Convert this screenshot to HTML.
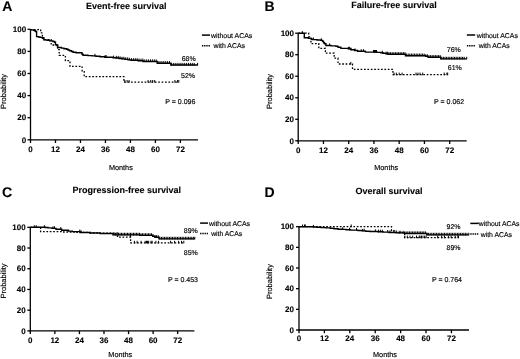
<!DOCTYPE html>
<html><head><meta charset="utf-8"><style>
html,body{margin:0;padding:0;background:#fff;}
svg{display:block;will-change:transform;}
text{font-family:"Liberation Sans", sans-serif;fill:#000;text-rendering:geometricPrecision;stroke:#000;stroke-width:0.15px;}
text[font-weight="bold"]{stroke-width:0.1px;}
</style></head><body>
<svg width="520" height="359" viewBox="0 0 520 359">
<rect width="520" height="359" fill="#fff"/>
<line x1="30.50" y1="29.30" x2="30.50" y2="140.30" stroke="#000" stroke-width="1.3"/>
<line x1="27.50" y1="139.80" x2="30.50" y2="139.80" stroke="#000" stroke-width="1.3"/>
<text x="26.20" y="142.50" font-size="8" font-weight="bold" text-anchor="end" >0</text>
<line x1="27.50" y1="117.70" x2="30.50" y2="117.70" stroke="#000" stroke-width="1.3"/>
<text x="26.20" y="120.40" font-size="8" font-weight="bold" text-anchor="end" >20</text>
<line x1="27.50" y1="95.60" x2="30.50" y2="95.60" stroke="#000" stroke-width="1.3"/>
<text x="26.20" y="98.30" font-size="8" font-weight="bold" text-anchor="end" >40</text>
<line x1="27.50" y1="73.50" x2="30.50" y2="73.50" stroke="#000" stroke-width="1.3"/>
<text x="26.20" y="76.20" font-size="8" font-weight="bold" text-anchor="end" >60</text>
<line x1="27.50" y1="51.40" x2="30.50" y2="51.40" stroke="#000" stroke-width="1.3"/>
<text x="26.20" y="54.10" font-size="8" font-weight="bold" text-anchor="end" >80</text>
<line x1="27.50" y1="29.30" x2="30.50" y2="29.30" stroke="#000" stroke-width="1.3"/>
<text x="26.20" y="32.00" font-size="8" font-weight="bold" text-anchor="end" >100</text>
<line x1="30.00" y1="139.80" x2="198.00" y2="139.80" stroke="#000" stroke-width="1.3"/>
<line x1="30.50" y1="139.80" x2="30.50" y2="143.00" stroke="#000" stroke-width="1.3"/>
<text x="30.50" y="151.90" font-size="8" font-weight="bold" text-anchor="middle" >0</text>
<line x1="55.48" y1="139.80" x2="55.48" y2="143.00" stroke="#000" stroke-width="1.3"/>
<text x="55.48" y="151.90" font-size="8" font-weight="bold" text-anchor="middle" >12</text>
<line x1="80.47" y1="139.80" x2="80.47" y2="143.00" stroke="#000" stroke-width="1.3"/>
<text x="80.47" y="151.90" font-size="8" font-weight="bold" text-anchor="middle" >24</text>
<line x1="105.45" y1="139.80" x2="105.45" y2="143.00" stroke="#000" stroke-width="1.3"/>
<text x="105.45" y="151.90" font-size="8" font-weight="bold" text-anchor="middle" >36</text>
<line x1="130.44" y1="139.80" x2="130.44" y2="143.00" stroke="#000" stroke-width="1.3"/>
<text x="130.44" y="151.90" font-size="8" font-weight="bold" text-anchor="middle" >48</text>
<line x1="155.42" y1="139.80" x2="155.42" y2="143.00" stroke="#000" stroke-width="1.3"/>
<text x="155.42" y="151.90" font-size="8" font-weight="bold" text-anchor="middle" >60</text>
<line x1="180.40" y1="139.80" x2="180.40" y2="143.00" stroke="#000" stroke-width="1.3"/>
<text x="180.40" y="151.90" font-size="8" font-weight="bold" text-anchor="middle" >72</text>
<text x="2.30" y="11.00" font-size="14" font-weight="bold" text-anchor="start" >A</text>
<text x="86.00" y="8.60" font-size="9" font-weight="bold" text-anchor="start" >Event-free survival</text>
<text x="0" y="0" font-size="7.5" text-anchor="middle" transform="translate(6.10,91.40) rotate(-90)">Probability</text>
<text x="108.90" y="170.00" font-size="7.3" text-anchor="start" >Months</text>
<line x1="201.90" y1="35.10" x2="210.00" y2="35.10" stroke="#000" stroke-width="1.5"/>
<line x1="201.90" y1="45.80" x2="210.00" y2="45.80" stroke="#000" stroke-width="1.5" stroke-dasharray="1.4,0.8"/>
<text x="210.90" y="37.60" font-size="7" text-anchor="start"  textLength="41.4" lengthAdjust="spacingAndGlyphs">without ACAs</text>
<text x="213.50" y="48.40" font-size="7" text-anchor="start"  textLength="31.5" lengthAdjust="spacingAndGlyphs">with ACAs</text>
<text x="181.70" y="60.60" font-size="7" text-anchor="start" >68%</text>
<text x="181.00" y="78.10" font-size="7" text-anchor="start" >52%</text>
<text x="165.30" y="103.80" font-size="7" text-anchor="start" >P = 0.096</text>
<polyline points="30.50,29.90 33.50,29.90 33.50,30.30 34.60,30.30 34.60,30.80 35.50,30.80 35.50,31.50 36.60,31.50 36.60,36.60 38.50,36.60 38.50,37.00 40.10,37.00 40.10,37.40 42.40,37.40 42.40,38.20 43.80,38.20 43.80,39.90 47.00,39.90 47.00,40.30 49.60,40.30 49.60,40.90 52.90,40.90 52.90,41.50 54.60,41.50 54.60,42.30 55.50,42.30 55.50,44.70 56.90,44.70 56.90,45.50 57.80,45.50 57.80,47.50 61.50,47.50 61.50,48.10 64.00,48.10 64.00,48.70 66.70,48.70 66.70,49.30 68.00,49.30 68.00,50.00 69.60,50.00 69.60,50.70 71.50,50.70 71.50,51.50 73.10,51.50 73.10,52.20 76.00,52.20 76.00,52.70 82.00,52.70 82.00,54.20 83.00,54.20 83.00,55.30 88.00,55.30 88.00,55.60 92.00,55.60 92.00,55.90 96.00,55.90 96.00,56.30 100.00,56.30 100.00,56.70 105.00,56.70 105.00,57.20 113.00,57.20 113.00,57.70 116.00,57.70 116.00,58.00 119.00,58.00 119.00,58.50 122.00,58.50 122.00,58.90 125.00,58.90 125.00,59.40 128.00,59.40 128.00,59.90 131.00,59.90 131.00,60.30 138.00,60.30 138.00,60.70 143.00,60.70 143.00,61.50 157.20,61.50 157.20,63.20 170.80,63.20 170.80,65.00 197.70,65.00 197.70,65.00" fill="none" stroke="#000" stroke-width="1.4" stroke-linejoin="miter" stroke-linecap="butt"/>
<polyline points="30.50,29.60 40.70,29.60 40.70,32.90 41.80,32.90 41.80,34.70 42.40,34.70 42.40,37.60 43.80,37.60 43.80,39.60 51.20,39.60 51.20,45.00 57.50,45.00 57.50,49.60 59.20,49.60 59.20,55.40 65.40,55.40 65.40,60.70 70.00,60.70 70.00,66.30 82.10,66.30 82.10,71.70 84.20,71.70 84.20,76.70 123.90,76.70 123.90,82.10 178.80,82.10 178.80,82.10" fill="none" stroke="#000" stroke-width="1.3" stroke-linejoin="miter" stroke-linecap="butt" stroke-dasharray="1.7,1.7"/>
<line x1="94.90" y1="56.40" x2="94.90" y2="53.80" stroke="#000" stroke-width="1.0"/>
<line x1="105.10" y1="57.70" x2="105.10" y2="55.10" stroke="#000" stroke-width="1.0"/>
<line x1="106.20" y1="57.70" x2="106.20" y2="55.10" stroke="#000" stroke-width="1.0"/>
<line x1="113.60" y1="58.20" x2="113.60" y2="55.60" stroke="#000" stroke-width="1.0"/>
<line x1="116.30" y1="58.50" x2="116.30" y2="55.90" stroke="#000" stroke-width="1.0"/>
<line x1="118.20" y1="58.50" x2="118.20" y2="55.90" stroke="#000" stroke-width="1.0"/>
<line x1="120.10" y1="59.00" x2="120.10" y2="56.40" stroke="#000" stroke-width="1.0"/>
<line x1="122.00" y1="59.40" x2="122.00" y2="56.80" stroke="#000" stroke-width="1.0"/>
<line x1="123.90" y1="59.40" x2="123.90" y2="56.80" stroke="#000" stroke-width="1.0"/>
<line x1="125.80" y1="59.90" x2="125.80" y2="57.30" stroke="#000" stroke-width="1.0"/>
<line x1="127.70" y1="59.90" x2="127.70" y2="57.30" stroke="#000" stroke-width="1.0"/>
<line x1="129.60" y1="60.40" x2="129.60" y2="57.80" stroke="#000" stroke-width="1.0"/>
<line x1="131.50" y1="60.80" x2="131.50" y2="58.20" stroke="#000" stroke-width="1.0"/>
<line x1="133.40" y1="60.80" x2="133.40" y2="58.20" stroke="#000" stroke-width="1.0"/>
<line x1="135.30" y1="60.80" x2="135.30" y2="58.20" stroke="#000" stroke-width="1.0"/>
<line x1="137.20" y1="60.80" x2="137.20" y2="58.20" stroke="#000" stroke-width="1.0"/>
<line x1="139.10" y1="61.20" x2="139.10" y2="58.60" stroke="#000" stroke-width="1.0"/>
<line x1="141.00" y1="61.20" x2="141.00" y2="58.60" stroke="#000" stroke-width="1.0"/>
<line x1="142.90" y1="61.20" x2="142.90" y2="58.60" stroke="#000" stroke-width="1.0"/>
<line x1="144.80" y1="62.00" x2="144.80" y2="59.40" stroke="#000" stroke-width="1.0"/>
<line x1="146.70" y1="62.00" x2="146.70" y2="59.40" stroke="#000" stroke-width="1.0"/>
<line x1="148.60" y1="62.00" x2="148.60" y2="59.40" stroke="#000" stroke-width="1.0"/>
<line x1="150.50" y1="62.00" x2="150.50" y2="59.40" stroke="#000" stroke-width="1.0"/>
<line x1="152.40" y1="62.00" x2="152.40" y2="59.40" stroke="#000" stroke-width="1.0"/>
<line x1="154.30" y1="62.00" x2="154.30" y2="59.40" stroke="#000" stroke-width="1.0"/>
<line x1="156.20" y1="62.00" x2="156.20" y2="59.40" stroke="#000" stroke-width="1.0"/>
<line x1="158.10" y1="63.70" x2="158.10" y2="61.10" stroke="#000" stroke-width="1.0"/>
<line x1="160.00" y1="63.70" x2="160.00" y2="61.10" stroke="#000" stroke-width="1.0"/>
<line x1="161.90" y1="63.70" x2="161.90" y2="61.10" stroke="#000" stroke-width="1.0"/>
<line x1="163.80" y1="63.70" x2="163.80" y2="61.10" stroke="#000" stroke-width="1.0"/>
<line x1="165.70" y1="63.70" x2="165.70" y2="61.10" stroke="#000" stroke-width="1.0"/>
<line x1="167.60" y1="63.70" x2="167.60" y2="61.10" stroke="#000" stroke-width="1.0"/>
<line x1="169.50" y1="63.70" x2="169.50" y2="61.10" stroke="#000" stroke-width="1.0"/>
<line x1="171.40" y1="65.50" x2="171.40" y2="62.90" stroke="#000" stroke-width="1.0"/>
<line x1="173.30" y1="65.50" x2="173.30" y2="62.90" stroke="#000" stroke-width="1.0"/>
<line x1="175.20" y1="65.50" x2="175.20" y2="62.90" stroke="#000" stroke-width="1.0"/>
<line x1="177.10" y1="65.50" x2="177.10" y2="62.90" stroke="#000" stroke-width="1.0"/>
<line x1="179.00" y1="65.50" x2="179.00" y2="62.90" stroke="#000" stroke-width="1.0"/>
<line x1="180.90" y1="65.50" x2="180.90" y2="62.90" stroke="#000" stroke-width="1.0"/>
<line x1="182.80" y1="65.50" x2="182.80" y2="62.90" stroke="#000" stroke-width="1.0"/>
<line x1="184.70" y1="65.50" x2="184.70" y2="62.90" stroke="#000" stroke-width="1.0"/>
<line x1="186.60" y1="65.50" x2="186.60" y2="62.90" stroke="#000" stroke-width="1.0"/>
<line x1="188.50" y1="65.50" x2="188.50" y2="62.90" stroke="#000" stroke-width="1.0"/>
<line x1="190.40" y1="65.50" x2="190.40" y2="62.90" stroke="#000" stroke-width="1.0"/>
<line x1="192.30" y1="65.50" x2="192.30" y2="62.90" stroke="#000" stroke-width="1.0"/>
<line x1="194.20" y1="65.50" x2="194.20" y2="62.90" stroke="#000" stroke-width="1.0"/>
<line x1="197.60" y1="65.50" x2="197.60" y2="62.90" stroke="#000" stroke-width="1.0"/>
<line x1="124.80" y1="82.60" x2="124.80" y2="80.00" stroke="#000" stroke-width="1.0"/>
<line x1="127.10" y1="82.60" x2="127.10" y2="80.00" stroke="#000" stroke-width="1.0"/>
<line x1="129.10" y1="82.60" x2="129.10" y2="80.00" stroke="#000" stroke-width="1.0"/>
<line x1="148.00" y1="82.60" x2="148.00" y2="80.00" stroke="#000" stroke-width="1.0"/>
<line x1="150.70" y1="82.60" x2="150.70" y2="80.00" stroke="#000" stroke-width="1.0"/>
<line x1="152.70" y1="82.60" x2="152.70" y2="80.00" stroke="#000" stroke-width="1.0"/>
<line x1="154.70" y1="82.60" x2="154.70" y2="80.00" stroke="#000" stroke-width="1.0"/>
<line x1="174.90" y1="82.60" x2="174.90" y2="80.00" stroke="#000" stroke-width="1.0"/>
<line x1="177.60" y1="82.60" x2="177.60" y2="80.00" stroke="#000" stroke-width="1.0"/>
<line x1="178.80" y1="82.60" x2="178.80" y2="80.00" stroke="#000" stroke-width="1.0"/>
<line x1="298.20" y1="33.20" x2="298.20" y2="141.30" stroke="#000" stroke-width="1.3"/>
<line x1="295.20" y1="140.80" x2="298.20" y2="140.80" stroke="#000" stroke-width="1.3"/>
<text x="294.00" y="143.50" font-size="8" font-weight="bold" text-anchor="end" >0</text>
<line x1="295.20" y1="119.28" x2="298.20" y2="119.28" stroke="#000" stroke-width="1.3"/>
<text x="294.00" y="121.98" font-size="8" font-weight="bold" text-anchor="end" >20</text>
<line x1="295.20" y1="97.76" x2="298.20" y2="97.76" stroke="#000" stroke-width="1.3"/>
<text x="294.00" y="100.46" font-size="8" font-weight="bold" text-anchor="end" >40</text>
<line x1="295.20" y1="76.24" x2="298.20" y2="76.24" stroke="#000" stroke-width="1.3"/>
<text x="294.00" y="78.94" font-size="8" font-weight="bold" text-anchor="end" >60</text>
<line x1="295.20" y1="54.72" x2="298.20" y2="54.72" stroke="#000" stroke-width="1.3"/>
<text x="294.00" y="57.42" font-size="8" font-weight="bold" text-anchor="end" >80</text>
<line x1="295.20" y1="33.20" x2="298.20" y2="33.20" stroke="#000" stroke-width="1.3"/>
<text x="294.00" y="35.90" font-size="8" font-weight="bold" text-anchor="end" >100</text>
<line x1="297.70" y1="140.80" x2="466.70" y2="140.80" stroke="#000" stroke-width="1.3"/>
<line x1="298.20" y1="140.80" x2="298.20" y2="144.00" stroke="#000" stroke-width="1.3"/>
<text x="298.20" y="152.60" font-size="8" font-weight="bold" text-anchor="middle" >0</text>
<line x1="323.45" y1="140.80" x2="323.45" y2="144.00" stroke="#000" stroke-width="1.3"/>
<text x="323.45" y="152.60" font-size="8" font-weight="bold" text-anchor="middle" >12</text>
<line x1="348.70" y1="140.80" x2="348.70" y2="144.00" stroke="#000" stroke-width="1.3"/>
<text x="348.70" y="152.60" font-size="8" font-weight="bold" text-anchor="middle" >24</text>
<line x1="373.94" y1="140.80" x2="373.94" y2="144.00" stroke="#000" stroke-width="1.3"/>
<text x="373.94" y="152.60" font-size="8" font-weight="bold" text-anchor="middle" >36</text>
<line x1="399.19" y1="140.80" x2="399.19" y2="144.00" stroke="#000" stroke-width="1.3"/>
<text x="399.19" y="152.60" font-size="8" font-weight="bold" text-anchor="middle" >48</text>
<line x1="424.44" y1="140.80" x2="424.44" y2="144.00" stroke="#000" stroke-width="1.3"/>
<text x="424.44" y="152.60" font-size="8" font-weight="bold" text-anchor="middle" >60</text>
<line x1="449.69" y1="140.80" x2="449.69" y2="144.00" stroke="#000" stroke-width="1.3"/>
<text x="449.69" y="152.60" font-size="8" font-weight="bold" text-anchor="middle" >72</text>
<text x="264.40" y="10.80" font-size="14" font-weight="bold" text-anchor="start" >B</text>
<text x="351.20" y="8.40" font-size="9" font-weight="bold" text-anchor="start" >Failure-free survival</text>
<text x="0" y="0" font-size="7.5" text-anchor="middle" transform="translate(271.80,91.50) rotate(-90)">Probability</text>
<text x="374.20" y="170.00" font-size="7.3" text-anchor="start" >Months</text>
<line x1="466.90" y1="35.00" x2="475.20" y2="35.00" stroke="#000" stroke-width="1.5"/>
<line x1="466.90" y1="45.80" x2="475.20" y2="45.80" stroke="#000" stroke-width="1.5" stroke-dasharray="1.4,0.8"/>
<text x="476.70" y="37.50" font-size="7" text-anchor="start"  textLength="41.2" lengthAdjust="spacingAndGlyphs">without ACAs</text>
<text x="478.70" y="48.40" font-size="7" text-anchor="start"  textLength="31.0" lengthAdjust="spacingAndGlyphs">with ACAs</text>
<text x="446.80" y="52.20" font-size="7" text-anchor="start" >76%</text>
<text x="447.80" y="69.80" font-size="7" text-anchor="start" >61%</text>
<text x="434.10" y="103.80" font-size="7" text-anchor="start" >P = 0.062</text>
<polyline points="298.20,33.20 304.30,33.20 304.30,37.80 308.40,37.80 308.40,38.40 311.30,38.40 311.30,39.20 313.00,39.20 313.00,39.60 317.00,39.60 317.00,40.00 320.80,40.00 320.80,40.40 322.50,40.40 322.50,41.30 323.50,41.30 323.50,42.80 324.50,42.80 324.50,43.80 325.90,43.80 325.90,45.50 331.00,45.50 331.00,45.90 335.90,45.90 335.90,46.30 338.00,46.30 338.00,47.20 340.90,47.20 340.90,48.40 348.40,48.40 348.40,48.90 350.90,48.90 350.90,49.70 354.60,49.70 354.60,50.50 357.70,50.50 357.70,51.30 365.40,51.30 365.40,52.10 377.00,52.10 377.00,52.40 380.80,52.40 380.80,52.80 383.00,52.80 383.00,53.30 386.00,53.30 386.00,53.80 388.00,53.80 388.00,54.30 405.40,54.30 405.40,55.70 425.80,55.70 425.80,56.40 428.00,56.40 428.00,57.20 440.70,57.20 440.70,58.90 466.70,58.90 466.70,58.90" fill="none" stroke="#000" stroke-width="1.4" stroke-linejoin="miter" stroke-linecap="butt"/>
<polyline points="298.20,33.20 308.70,33.20 308.70,37.00 309.50,37.00 309.50,38.40 311.00,38.40 311.00,43.60 318.80,43.60 318.80,48.40 325.40,48.40 325.40,53.20 334.20,53.20 334.20,58.20 338.00,58.20 338.00,64.00 352.50,64.00 352.50,69.40 392.90,69.40 392.90,74.70 447.70,74.70 447.70,74.70" fill="none" stroke="#000" stroke-width="1.3" stroke-linejoin="miter" stroke-linecap="butt" stroke-dasharray="1.7,1.7"/>
<line x1="302.30" y1="33.70" x2="302.30" y2="31.10" stroke="#000" stroke-width="1.0"/>
<line x1="313.30" y1="40.10" x2="313.30" y2="37.50" stroke="#000" stroke-width="1.0"/>
<line x1="321.40" y1="40.90" x2="321.40" y2="38.30" stroke="#000" stroke-width="1.0"/>
<line x1="329.60" y1="46.00" x2="329.60" y2="43.40" stroke="#000" stroke-width="1.0"/>
<line x1="348.40" y1="49.40" x2="348.40" y2="46.80" stroke="#000" stroke-width="1.0"/>
<line x1="349.60" y1="49.40" x2="349.60" y2="46.80" stroke="#000" stroke-width="1.0"/>
<line x1="350.90" y1="50.20" x2="350.90" y2="47.60" stroke="#000" stroke-width="1.0"/>
<line x1="355.00" y1="51.00" x2="355.00" y2="48.40" stroke="#000" stroke-width="1.0"/>
<line x1="361.20" y1="51.80" x2="361.20" y2="49.20" stroke="#000" stroke-width="1.0"/>
<line x1="363.50" y1="51.80" x2="363.50" y2="49.20" stroke="#000" stroke-width="1.0"/>
<line x1="373.50" y1="52.60" x2="373.50" y2="50.00" stroke="#000" stroke-width="1.0"/>
<line x1="374.50" y1="52.60" x2="374.50" y2="50.00" stroke="#000" stroke-width="1.0"/>
<line x1="375.50" y1="52.60" x2="375.50" y2="50.00" stroke="#000" stroke-width="1.0"/>
<line x1="376.50" y1="52.60" x2="376.50" y2="50.00" stroke="#000" stroke-width="1.0"/>
<line x1="382.30" y1="53.30" x2="382.30" y2="50.70" stroke="#000" stroke-width="1.0"/>
<line x1="386.20" y1="54.30" x2="386.20" y2="51.70" stroke="#000" stroke-width="1.0"/>
<line x1="387.70" y1="54.30" x2="387.70" y2="51.70" stroke="#000" stroke-width="1.0"/>
<line x1="389.00" y1="54.80" x2="389.00" y2="52.20" stroke="#000" stroke-width="1.0"/>
<line x1="390.60" y1="54.80" x2="390.60" y2="52.20" stroke="#000" stroke-width="1.0"/>
<line x1="392.20" y1="54.80" x2="392.20" y2="52.20" stroke="#000" stroke-width="1.0"/>
<line x1="393.80" y1="54.80" x2="393.80" y2="52.20" stroke="#000" stroke-width="1.0"/>
<line x1="395.40" y1="54.80" x2="395.40" y2="52.20" stroke="#000" stroke-width="1.0"/>
<line x1="397.00" y1="54.80" x2="397.00" y2="52.20" stroke="#000" stroke-width="1.0"/>
<line x1="398.60" y1="54.80" x2="398.60" y2="52.20" stroke="#000" stroke-width="1.0"/>
<line x1="400.20" y1="54.80" x2="400.20" y2="52.20" stroke="#000" stroke-width="1.0"/>
<line x1="401.80" y1="54.80" x2="401.80" y2="52.20" stroke="#000" stroke-width="1.0"/>
<line x1="403.40" y1="54.80" x2="403.40" y2="52.20" stroke="#000" stroke-width="1.0"/>
<line x1="405.00" y1="54.80" x2="405.00" y2="52.20" stroke="#000" stroke-width="1.0"/>
<line x1="406.60" y1="56.20" x2="406.60" y2="53.60" stroke="#000" stroke-width="1.0"/>
<line x1="408.20" y1="56.20" x2="408.20" y2="53.60" stroke="#000" stroke-width="1.0"/>
<line x1="409.80" y1="56.20" x2="409.80" y2="53.60" stroke="#000" stroke-width="1.0"/>
<line x1="411.40" y1="56.20" x2="411.40" y2="53.60" stroke="#000" stroke-width="1.0"/>
<line x1="413.00" y1="56.20" x2="413.00" y2="53.60" stroke="#000" stroke-width="1.0"/>
<line x1="414.60" y1="56.20" x2="414.60" y2="53.60" stroke="#000" stroke-width="1.0"/>
<line x1="416.20" y1="56.20" x2="416.20" y2="53.60" stroke="#000" stroke-width="1.0"/>
<line x1="417.80" y1="56.20" x2="417.80" y2="53.60" stroke="#000" stroke-width="1.0"/>
<line x1="419.40" y1="56.20" x2="419.40" y2="53.60" stroke="#000" stroke-width="1.0"/>
<line x1="421.00" y1="56.20" x2="421.00" y2="53.60" stroke="#000" stroke-width="1.0"/>
<line x1="422.60" y1="56.20" x2="422.60" y2="53.60" stroke="#000" stroke-width="1.0"/>
<line x1="424.20" y1="56.20" x2="424.20" y2="53.60" stroke="#000" stroke-width="1.0"/>
<line x1="425.80" y1="56.90" x2="425.80" y2="54.30" stroke="#000" stroke-width="1.0"/>
<line x1="427.40" y1="56.90" x2="427.40" y2="54.30" stroke="#000" stroke-width="1.0"/>
<line x1="429.00" y1="57.70" x2="429.00" y2="55.10" stroke="#000" stroke-width="1.0"/>
<line x1="430.60" y1="57.70" x2="430.60" y2="55.10" stroke="#000" stroke-width="1.0"/>
<line x1="432.20" y1="57.70" x2="432.20" y2="55.10" stroke="#000" stroke-width="1.0"/>
<line x1="433.80" y1="57.70" x2="433.80" y2="55.10" stroke="#000" stroke-width="1.0"/>
<line x1="435.40" y1="57.70" x2="435.40" y2="55.10" stroke="#000" stroke-width="1.0"/>
<line x1="437.00" y1="57.70" x2="437.00" y2="55.10" stroke="#000" stroke-width="1.0"/>
<line x1="438.60" y1="57.70" x2="438.60" y2="55.10" stroke="#000" stroke-width="1.0"/>
<line x1="440.20" y1="57.70" x2="440.20" y2="55.10" stroke="#000" stroke-width="1.0"/>
<line x1="441.80" y1="59.40" x2="441.80" y2="56.80" stroke="#000" stroke-width="1.0"/>
<line x1="443.40" y1="59.40" x2="443.40" y2="56.80" stroke="#000" stroke-width="1.0"/>
<line x1="445.00" y1="59.40" x2="445.00" y2="56.80" stroke="#000" stroke-width="1.0"/>
<line x1="446.60" y1="59.40" x2="446.60" y2="56.80" stroke="#000" stroke-width="1.0"/>
<line x1="448.20" y1="59.40" x2="448.20" y2="56.80" stroke="#000" stroke-width="1.0"/>
<line x1="449.80" y1="59.40" x2="449.80" y2="56.80" stroke="#000" stroke-width="1.0"/>
<line x1="451.40" y1="59.40" x2="451.40" y2="56.80" stroke="#000" stroke-width="1.0"/>
<line x1="453.00" y1="59.40" x2="453.00" y2="56.80" stroke="#000" stroke-width="1.0"/>
<line x1="454.60" y1="59.40" x2="454.60" y2="56.80" stroke="#000" stroke-width="1.0"/>
<line x1="456.20" y1="59.40" x2="456.20" y2="56.80" stroke="#000" stroke-width="1.0"/>
<line x1="457.80" y1="59.40" x2="457.80" y2="56.80" stroke="#000" stroke-width="1.0"/>
<line x1="459.40" y1="59.40" x2="459.40" y2="56.80" stroke="#000" stroke-width="1.0"/>
<line x1="461.00" y1="59.40" x2="461.00" y2="56.80" stroke="#000" stroke-width="1.0"/>
<line x1="462.60" y1="59.40" x2="462.60" y2="56.80" stroke="#000" stroke-width="1.0"/>
<line x1="464.20" y1="59.40" x2="464.20" y2="56.80" stroke="#000" stroke-width="1.0"/>
<line x1="466.70" y1="59.40" x2="466.70" y2="56.80" stroke="#000" stroke-width="1.0"/>
<line x1="350.80" y1="64.50" x2="350.80" y2="61.90" stroke="#000" stroke-width="1.0"/>
<line x1="394.00" y1="75.20" x2="394.00" y2="72.60" stroke="#000" stroke-width="1.0"/>
<line x1="396.30" y1="75.20" x2="396.30" y2="72.60" stroke="#000" stroke-width="1.0"/>
<line x1="399.20" y1="75.20" x2="399.20" y2="72.60" stroke="#000" stroke-width="1.0"/>
<line x1="402.10" y1="75.20" x2="402.10" y2="72.60" stroke="#000" stroke-width="1.0"/>
<line x1="416.00" y1="75.20" x2="416.00" y2="72.60" stroke="#000" stroke-width="1.0"/>
<line x1="418.00" y1="75.20" x2="418.00" y2="72.60" stroke="#000" stroke-width="1.0"/>
<line x1="420.00" y1="75.20" x2="420.00" y2="72.60" stroke="#000" stroke-width="1.0"/>
<line x1="422.70" y1="75.20" x2="422.70" y2="72.60" stroke="#000" stroke-width="1.0"/>
<line x1="444.20" y1="75.20" x2="444.20" y2="72.60" stroke="#000" stroke-width="1.0"/>
<line x1="446.90" y1="75.20" x2="446.90" y2="72.60" stroke="#000" stroke-width="1.0"/>
<line x1="447.70" y1="75.20" x2="447.70" y2="72.60" stroke="#000" stroke-width="1.0"/>
<line x1="30.30" y1="227.30" x2="30.30" y2="331.40" stroke="#000" stroke-width="1.3"/>
<line x1="27.30" y1="330.90" x2="30.30" y2="330.90" stroke="#000" stroke-width="1.3"/>
<text x="25.60" y="333.60" font-size="8" font-weight="bold" text-anchor="end" >0</text>
<line x1="27.30" y1="310.18" x2="30.30" y2="310.18" stroke="#000" stroke-width="1.3"/>
<text x="25.60" y="312.88" font-size="8" font-weight="bold" text-anchor="end" >20</text>
<line x1="27.30" y1="289.46" x2="30.30" y2="289.46" stroke="#000" stroke-width="1.3"/>
<text x="25.60" y="292.16" font-size="8" font-weight="bold" text-anchor="end" >40</text>
<line x1="27.30" y1="268.74" x2="30.30" y2="268.74" stroke="#000" stroke-width="1.3"/>
<text x="25.60" y="271.44" font-size="8" font-weight="bold" text-anchor="end" >60</text>
<line x1="27.30" y1="248.02" x2="30.30" y2="248.02" stroke="#000" stroke-width="1.3"/>
<text x="25.60" y="250.72" font-size="8" font-weight="bold" text-anchor="end" >80</text>
<line x1="27.30" y1="227.30" x2="30.30" y2="227.30" stroke="#000" stroke-width="1.3"/>
<text x="25.60" y="230.00" font-size="8" font-weight="bold" text-anchor="end" >100</text>
<line x1="29.80" y1="330.90" x2="194.40" y2="330.90" stroke="#000" stroke-width="1.3"/>
<line x1="30.30" y1="330.90" x2="30.30" y2="334.10" stroke="#000" stroke-width="1.3"/>
<text x="30.30" y="342.70" font-size="8" font-weight="bold" text-anchor="middle" >0</text>
<line x1="54.86" y1="330.90" x2="54.86" y2="334.10" stroke="#000" stroke-width="1.3"/>
<text x="54.86" y="342.70" font-size="8" font-weight="bold" text-anchor="middle" >12</text>
<line x1="79.43" y1="330.90" x2="79.43" y2="334.10" stroke="#000" stroke-width="1.3"/>
<text x="79.43" y="342.70" font-size="8" font-weight="bold" text-anchor="middle" >24</text>
<line x1="103.99" y1="330.90" x2="103.99" y2="334.10" stroke="#000" stroke-width="1.3"/>
<text x="103.99" y="342.70" font-size="8" font-weight="bold" text-anchor="middle" >36</text>
<line x1="128.56" y1="330.90" x2="128.56" y2="334.10" stroke="#000" stroke-width="1.3"/>
<text x="128.56" y="342.70" font-size="8" font-weight="bold" text-anchor="middle" >48</text>
<line x1="153.12" y1="330.90" x2="153.12" y2="334.10" stroke="#000" stroke-width="1.3"/>
<text x="153.12" y="342.70" font-size="8" font-weight="bold" text-anchor="middle" >60</text>
<line x1="177.68" y1="330.90" x2="177.68" y2="334.10" stroke="#000" stroke-width="1.3"/>
<text x="177.68" y="342.70" font-size="8" font-weight="bold" text-anchor="middle" >72</text>
<text x="2.00" y="196.80" font-size="14" font-weight="bold" text-anchor="start" >C</text>
<text x="72.50" y="192.60" font-size="9" font-weight="bold" text-anchor="start" >Progression-free survival</text>
<text x="0" y="0" font-size="7.5" text-anchor="middle" transform="translate(6.40,281.00) rotate(-90)">Probability</text>
<text x="108.30" y="357.00" font-size="7.3" text-anchor="start" >Months</text>
<line x1="200.10" y1="223.10" x2="208.00" y2="223.10" stroke="#000" stroke-width="1.5"/>
<line x1="200.10" y1="233.50" x2="208.00" y2="233.50" stroke="#000" stroke-width="1.5" stroke-dasharray="1.4,0.8"/>
<text x="208.90" y="225.50" font-size="7" text-anchor="start"  textLength="41.2" lengthAdjust="spacingAndGlyphs">without ACAs</text>
<text x="211.20" y="236.10" font-size="7" text-anchor="start"  textLength="31.0" lengthAdjust="spacingAndGlyphs">with ACAs</text>
<text x="183.80" y="233.20" font-size="7" text-anchor="start" >89%</text>
<text x="183.80" y="254.90" font-size="7" text-anchor="start" >85%</text>
<text x="167.90" y="281.90" font-size="7" text-anchor="start" >P = 0.453</text>
<polyline points="30.30,227.30 45.40,227.30 45.40,227.50 48.00,227.50 48.00,227.90 52.10,227.90 52.10,228.40 56.00,228.40 56.00,229.20 61.70,229.20 61.70,230.20 68.50,230.20 68.50,231.10 72.30,231.10 72.30,231.60 80.00,231.60 80.00,232.50 90.00,232.50 90.00,233.00 100.00,233.00 100.00,233.50 113.00,233.50 113.00,234.90 140.00,234.90 140.00,235.40 152.60,235.40 152.60,236.20 155.00,236.20 155.00,237.30 159.00,237.30 159.00,238.90 194.80,238.90 194.80,238.90" fill="none" stroke="#000" stroke-width="1.4" stroke-linejoin="miter" stroke-linecap="butt"/>
<polyline points="30.30,227.30 40.60,227.30 40.60,231.60 62.00,231.60 62.00,232.00 76.00,232.00 76.00,232.40 90.00,232.40 90.00,232.80 100.00,232.80 100.00,233.10 117.50,233.10 117.50,237.10 130.60,237.10 130.60,242.90 184.40,242.90 184.40,242.90" fill="none" stroke="#000" stroke-width="1.3" stroke-linejoin="miter" stroke-linecap="butt" stroke-dasharray="1.7,1.7"/>
<line x1="34.30" y1="227.80" x2="34.30" y2="225.20" stroke="#000" stroke-width="1.0"/>
<line x1="36.25" y1="227.80" x2="36.25" y2="225.20" stroke="#000" stroke-width="1.0"/>
<line x1="44.40" y1="227.80" x2="44.40" y2="225.20" stroke="#000" stroke-width="1.0"/>
<line x1="53.10" y1="228.90" x2="53.10" y2="226.30" stroke="#000" stroke-width="1.0"/>
<line x1="54.50" y1="228.90" x2="54.50" y2="226.30" stroke="#000" stroke-width="1.0"/>
<line x1="60.80" y1="229.70" x2="60.80" y2="227.10" stroke="#000" stroke-width="1.0"/>
<line x1="79.80" y1="232.10" x2="79.80" y2="229.50" stroke="#000" stroke-width="1.0"/>
<line x1="81.20" y1="233.00" x2="81.20" y2="230.40" stroke="#000" stroke-width="1.0"/>
<line x1="114.00" y1="235.40" x2="114.00" y2="232.80" stroke="#000" stroke-width="1.0"/>
<line x1="115.50" y1="235.40" x2="115.50" y2="232.80" stroke="#000" stroke-width="1.0"/>
<line x1="117.00" y1="235.40" x2="117.00" y2="232.80" stroke="#000" stroke-width="1.0"/>
<line x1="118.50" y1="235.40" x2="118.50" y2="232.80" stroke="#000" stroke-width="1.0"/>
<line x1="120.00" y1="235.40" x2="120.00" y2="232.80" stroke="#000" stroke-width="1.0"/>
<line x1="121.50" y1="235.40" x2="121.50" y2="232.80" stroke="#000" stroke-width="1.0"/>
<line x1="123.00" y1="235.40" x2="123.00" y2="232.80" stroke="#000" stroke-width="1.0"/>
<line x1="124.50" y1="235.40" x2="124.50" y2="232.80" stroke="#000" stroke-width="1.0"/>
<line x1="126.00" y1="235.40" x2="126.00" y2="232.80" stroke="#000" stroke-width="1.0"/>
<line x1="127.50" y1="235.40" x2="127.50" y2="232.80" stroke="#000" stroke-width="1.0"/>
<line x1="129.00" y1="235.40" x2="129.00" y2="232.80" stroke="#000" stroke-width="1.0"/>
<line x1="130.50" y1="235.40" x2="130.50" y2="232.80" stroke="#000" stroke-width="1.0"/>
<line x1="132.00" y1="235.40" x2="132.00" y2="232.80" stroke="#000" stroke-width="1.0"/>
<line x1="133.50" y1="235.40" x2="133.50" y2="232.80" stroke="#000" stroke-width="1.0"/>
<line x1="135.00" y1="235.40" x2="135.00" y2="232.80" stroke="#000" stroke-width="1.0"/>
<line x1="136.50" y1="235.40" x2="136.50" y2="232.80" stroke="#000" stroke-width="1.0"/>
<line x1="138.00" y1="235.40" x2="138.00" y2="232.80" stroke="#000" stroke-width="1.0"/>
<line x1="139.50" y1="235.40" x2="139.50" y2="232.80" stroke="#000" stroke-width="1.0"/>
<line x1="141.00" y1="235.90" x2="141.00" y2="233.30" stroke="#000" stroke-width="1.0"/>
<line x1="142.50" y1="235.90" x2="142.50" y2="233.30" stroke="#000" stroke-width="1.0"/>
<line x1="144.00" y1="235.90" x2="144.00" y2="233.30" stroke="#000" stroke-width="1.0"/>
<line x1="145.50" y1="235.90" x2="145.50" y2="233.30" stroke="#000" stroke-width="1.0"/>
<line x1="147.00" y1="235.90" x2="147.00" y2="233.30" stroke="#000" stroke-width="1.0"/>
<line x1="148.50" y1="235.90" x2="148.50" y2="233.30" stroke="#000" stroke-width="1.0"/>
<line x1="150.00" y1="235.90" x2="150.00" y2="233.30" stroke="#000" stroke-width="1.0"/>
<line x1="151.50" y1="235.90" x2="151.50" y2="233.30" stroke="#000" stroke-width="1.0"/>
<line x1="153.00" y1="236.70" x2="153.00" y2="234.10" stroke="#000" stroke-width="1.0"/>
<line x1="155.00" y1="237.80" x2="155.00" y2="235.20" stroke="#000" stroke-width="1.0"/>
<line x1="156.60" y1="237.80" x2="156.60" y2="235.20" stroke="#000" stroke-width="1.0"/>
<line x1="158.20" y1="237.80" x2="158.20" y2="235.20" stroke="#000" stroke-width="1.0"/>
<line x1="159.80" y1="239.40" x2="159.80" y2="236.80" stroke="#000" stroke-width="1.0"/>
<line x1="161.40" y1="239.40" x2="161.40" y2="236.80" stroke="#000" stroke-width="1.0"/>
<line x1="163.00" y1="239.40" x2="163.00" y2="236.80" stroke="#000" stroke-width="1.0"/>
<line x1="164.60" y1="239.40" x2="164.60" y2="236.80" stroke="#000" stroke-width="1.0"/>
<line x1="166.20" y1="239.40" x2="166.20" y2="236.80" stroke="#000" stroke-width="1.0"/>
<line x1="167.80" y1="239.40" x2="167.80" y2="236.80" stroke="#000" stroke-width="1.0"/>
<line x1="169.40" y1="239.40" x2="169.40" y2="236.80" stroke="#000" stroke-width="1.0"/>
<line x1="171.00" y1="239.40" x2="171.00" y2="236.80" stroke="#000" stroke-width="1.0"/>
<line x1="172.60" y1="239.40" x2="172.60" y2="236.80" stroke="#000" stroke-width="1.0"/>
<line x1="174.20" y1="239.40" x2="174.20" y2="236.80" stroke="#000" stroke-width="1.0"/>
<line x1="175.80" y1="239.40" x2="175.80" y2="236.80" stroke="#000" stroke-width="1.0"/>
<line x1="177.40" y1="239.40" x2="177.40" y2="236.80" stroke="#000" stroke-width="1.0"/>
<line x1="179.00" y1="239.40" x2="179.00" y2="236.80" stroke="#000" stroke-width="1.0"/>
<line x1="180.60" y1="239.40" x2="180.60" y2="236.80" stroke="#000" stroke-width="1.0"/>
<line x1="182.20" y1="239.40" x2="182.20" y2="236.80" stroke="#000" stroke-width="1.0"/>
<line x1="183.80" y1="239.40" x2="183.80" y2="236.80" stroke="#000" stroke-width="1.0"/>
<line x1="185.40" y1="239.40" x2="185.40" y2="236.80" stroke="#000" stroke-width="1.0"/>
<line x1="187.00" y1="239.40" x2="187.00" y2="236.80" stroke="#000" stroke-width="1.0"/>
<line x1="188.60" y1="239.40" x2="188.60" y2="236.80" stroke="#000" stroke-width="1.0"/>
<line x1="190.20" y1="239.40" x2="190.20" y2="236.80" stroke="#000" stroke-width="1.0"/>
<line x1="191.80" y1="239.40" x2="191.80" y2="236.80" stroke="#000" stroke-width="1.0"/>
<line x1="193.40" y1="239.40" x2="193.40" y2="236.80" stroke="#000" stroke-width="1.0"/>
<line x1="194.80" y1="239.40" x2="194.80" y2="236.80" stroke="#000" stroke-width="1.0"/>
<line x1="130.40" y1="237.60" x2="130.40" y2="235.00" stroke="#000" stroke-width="1.0"/>
<line x1="134.40" y1="243.40" x2="134.40" y2="240.80" stroke="#000" stroke-width="1.0"/>
<line x1="137.10" y1="243.40" x2="137.10" y2="240.80" stroke="#000" stroke-width="1.0"/>
<line x1="141.10" y1="243.40" x2="141.10" y2="240.80" stroke="#000" stroke-width="1.0"/>
<line x1="145.20" y1="243.40" x2="145.20" y2="240.80" stroke="#000" stroke-width="1.0"/>
<line x1="146.50" y1="243.40" x2="146.50" y2="240.80" stroke="#000" stroke-width="1.0"/>
<line x1="147.50" y1="243.40" x2="147.50" y2="240.80" stroke="#000" stroke-width="1.0"/>
<line x1="148.70" y1="243.40" x2="148.70" y2="240.80" stroke="#000" stroke-width="1.0"/>
<line x1="151.00" y1="243.40" x2="151.00" y2="240.80" stroke="#000" stroke-width="1.0"/>
<line x1="152.10" y1="243.40" x2="152.10" y2="240.80" stroke="#000" stroke-width="1.0"/>
<line x1="155.90" y1="243.40" x2="155.90" y2="240.80" stroke="#000" stroke-width="1.0"/>
<line x1="158.60" y1="243.40" x2="158.60" y2="240.80" stroke="#000" stroke-width="1.0"/>
<line x1="170.60" y1="243.40" x2="170.60" y2="240.80" stroke="#000" stroke-width="1.0"/>
<line x1="174.60" y1="243.40" x2="174.60" y2="240.80" stroke="#000" stroke-width="1.0"/>
<line x1="178.60" y1="243.40" x2="178.60" y2="240.80" stroke="#000" stroke-width="1.0"/>
<line x1="181.50" y1="243.40" x2="181.50" y2="240.80" stroke="#000" stroke-width="1.0"/>
<line x1="183.80" y1="243.40" x2="183.80" y2="240.80" stroke="#000" stroke-width="1.0"/>
<line x1="299.00" y1="226.70" x2="299.00" y2="330.50" stroke="#000" stroke-width="1.3"/>
<line x1="296.00" y1="330.00" x2="299.00" y2="330.00" stroke="#000" stroke-width="1.3"/>
<text x="294.00" y="332.70" font-size="8" font-weight="bold" text-anchor="end" >0</text>
<line x1="296.00" y1="309.34" x2="299.00" y2="309.34" stroke="#000" stroke-width="1.3"/>
<text x="294.00" y="312.04" font-size="8" font-weight="bold" text-anchor="end" >20</text>
<line x1="296.00" y1="288.68" x2="299.00" y2="288.68" stroke="#000" stroke-width="1.3"/>
<text x="294.00" y="291.38" font-size="8" font-weight="bold" text-anchor="end" >40</text>
<line x1="296.00" y1="268.02" x2="299.00" y2="268.02" stroke="#000" stroke-width="1.3"/>
<text x="294.00" y="270.72" font-size="8" font-weight="bold" text-anchor="end" >60</text>
<line x1="296.00" y1="247.36" x2="299.00" y2="247.36" stroke="#000" stroke-width="1.3"/>
<text x="294.00" y="250.06" font-size="8" font-weight="bold" text-anchor="end" >80</text>
<line x1="296.00" y1="226.70" x2="299.00" y2="226.70" stroke="#000" stroke-width="1.3"/>
<text x="294.00" y="229.40" font-size="8" font-weight="bold" text-anchor="end" >100</text>
<line x1="298.50" y1="330.00" x2="469.00" y2="330.00" stroke="#000" stroke-width="1.3"/>
<line x1="299.00" y1="330.00" x2="299.00" y2="333.20" stroke="#000" stroke-width="1.3"/>
<text x="299.00" y="341.00" font-size="8" font-weight="bold" text-anchor="middle" >0</text>
<line x1="324.40" y1="330.00" x2="324.40" y2="333.20" stroke="#000" stroke-width="1.3"/>
<text x="324.40" y="341.00" font-size="8" font-weight="bold" text-anchor="middle" >12</text>
<line x1="349.81" y1="330.00" x2="349.81" y2="333.20" stroke="#000" stroke-width="1.3"/>
<text x="349.81" y="341.00" font-size="8" font-weight="bold" text-anchor="middle" >24</text>
<line x1="375.21" y1="330.00" x2="375.21" y2="333.20" stroke="#000" stroke-width="1.3"/>
<text x="375.21" y="341.00" font-size="8" font-weight="bold" text-anchor="middle" >36</text>
<line x1="400.62" y1="330.00" x2="400.62" y2="333.20" stroke="#000" stroke-width="1.3"/>
<text x="400.62" y="341.00" font-size="8" font-weight="bold" text-anchor="middle" >48</text>
<line x1="426.02" y1="330.00" x2="426.02" y2="333.20" stroke="#000" stroke-width="1.3"/>
<text x="426.02" y="341.00" font-size="8" font-weight="bold" text-anchor="middle" >60</text>
<line x1="451.42" y1="330.00" x2="451.42" y2="333.20" stroke="#000" stroke-width="1.3"/>
<text x="451.42" y="341.00" font-size="8" font-weight="bold" text-anchor="middle" >72</text>
<text x="264.40" y="196.80" font-size="14" font-weight="bold" text-anchor="start" >D</text>
<text x="355.40" y="193.50" font-size="9" font-weight="bold" text-anchor="start" >Overall survival</text>
<text x="0" y="0" font-size="7.5" text-anchor="middle" transform="translate(271.80,281.60) rotate(-90)">Probability</text>
<text x="373.00" y="357.10" font-size="7.3" text-anchor="start" >Months</text>
<line x1="470.30" y1="223.40" x2="478.80" y2="223.40" stroke="#000" stroke-width="1.5"/>
<line x1="470.30" y1="234.00" x2="478.80" y2="234.00" stroke="#000" stroke-width="1.5" stroke-dasharray="1.4,0.8"/>
<text x="478.80" y="225.70" font-size="7" text-anchor="start"  textLength="40.6" lengthAdjust="spacingAndGlyphs">without ACAs</text>
<text x="480.70" y="236.60" font-size="7" text-anchor="start"  textLength="31.2" lengthAdjust="spacingAndGlyphs">with ACAs</text>
<text x="446.50" y="228.80" font-size="7" text-anchor="start" >92%</text>
<text x="446.50" y="250.40" font-size="7" text-anchor="start" >89%</text>
<text x="431.90" y="282.10" font-size="7" text-anchor="start" >P = 0.764</text>
<polyline points="299.00,226.70 313.40,226.70 313.40,227.00 317.00,227.00 317.00,227.30 321.00,227.30 321.00,227.60 326.00,227.60 326.00,227.90 330.30,227.90 330.30,228.30 334.00,228.30 334.00,228.80 338.00,228.80 338.00,229.20 342.70,229.20 342.70,229.40 346.00,229.40 346.00,229.80 350.40,229.80 350.40,230.10 358.00,230.10 358.00,230.50 362.00,230.50 362.00,230.90 365.80,230.90 365.80,231.20 370.00,231.20 370.00,231.50 377.70,231.50 377.70,231.80 383.00,231.80 383.00,232.10 389.20,232.10 389.20,232.50 397.00,232.50 397.00,232.90 404.60,232.90 404.60,233.50 426.90,233.50 426.90,234.90 468.80,234.90 468.80,234.90" fill="none" stroke="#000" stroke-width="1.4" stroke-linejoin="miter" stroke-linecap="butt"/>
<polyline points="299.00,226.60 391.50,226.60 391.50,230.90 395.00,230.90 395.00,232.60 404.60,232.60 404.60,237.70 458.50,237.70 458.50,237.70" fill="none" stroke="#000" stroke-width="1.3" stroke-linejoin="miter" stroke-linecap="butt" stroke-dasharray="1.7,1.7"/>
<line x1="313.40" y1="227.50" x2="313.40" y2="224.90" stroke="#000" stroke-width="1.0"/>
<line x1="342.70" y1="229.90" x2="342.70" y2="227.30" stroke="#000" stroke-width="1.0"/>
<line x1="349.60" y1="230.30" x2="349.60" y2="227.70" stroke="#000" stroke-width="1.0"/>
<line x1="356.50" y1="230.60" x2="356.50" y2="228.00" stroke="#000" stroke-width="1.0"/>
<line x1="362.70" y1="231.40" x2="362.70" y2="228.80" stroke="#000" stroke-width="1.0"/>
<line x1="364.20" y1="231.40" x2="364.20" y2="228.80" stroke="#000" stroke-width="1.0"/>
<line x1="375.40" y1="232.00" x2="375.40" y2="229.40" stroke="#000" stroke-width="1.0"/>
<line x1="378.50" y1="232.30" x2="378.50" y2="229.70" stroke="#000" stroke-width="1.0"/>
<line x1="380.40" y1="232.30" x2="380.40" y2="229.70" stroke="#000" stroke-width="1.0"/>
<line x1="382.30" y1="232.30" x2="382.30" y2="229.70" stroke="#000" stroke-width="1.0"/>
<line x1="387.70" y1="232.60" x2="387.70" y2="230.00" stroke="#000" stroke-width="1.0"/>
<line x1="390.00" y1="233.00" x2="390.00" y2="230.40" stroke="#000" stroke-width="1.0"/>
<line x1="393.80" y1="233.00" x2="393.80" y2="230.40" stroke="#000" stroke-width="1.0"/>
<line x1="396.20" y1="233.00" x2="396.20" y2="230.40" stroke="#000" stroke-width="1.0"/>
<line x1="399.20" y1="233.40" x2="399.20" y2="230.80" stroke="#000" stroke-width="1.0"/>
<line x1="400.80" y1="233.40" x2="400.80" y2="230.80" stroke="#000" stroke-width="1.0"/>
<line x1="403.10" y1="233.40" x2="403.10" y2="230.80" stroke="#000" stroke-width="1.0"/>
<line x1="404.60" y1="234.00" x2="404.60" y2="231.40" stroke="#000" stroke-width="1.0"/>
<line x1="406.20" y1="234.00" x2="406.20" y2="231.40" stroke="#000" stroke-width="1.0"/>
<line x1="407.80" y1="234.00" x2="407.80" y2="231.40" stroke="#000" stroke-width="1.0"/>
<line x1="409.40" y1="234.00" x2="409.40" y2="231.40" stroke="#000" stroke-width="1.0"/>
<line x1="411.00" y1="234.00" x2="411.00" y2="231.40" stroke="#000" stroke-width="1.0"/>
<line x1="412.60" y1="234.00" x2="412.60" y2="231.40" stroke="#000" stroke-width="1.0"/>
<line x1="414.20" y1="234.00" x2="414.20" y2="231.40" stroke="#000" stroke-width="1.0"/>
<line x1="415.80" y1="234.00" x2="415.80" y2="231.40" stroke="#000" stroke-width="1.0"/>
<line x1="417.40" y1="234.00" x2="417.40" y2="231.40" stroke="#000" stroke-width="1.0"/>
<line x1="419.00" y1="234.00" x2="419.00" y2="231.40" stroke="#000" stroke-width="1.0"/>
<line x1="420.60" y1="234.00" x2="420.60" y2="231.40" stroke="#000" stroke-width="1.0"/>
<line x1="422.20" y1="234.00" x2="422.20" y2="231.40" stroke="#000" stroke-width="1.0"/>
<line x1="423.80" y1="234.00" x2="423.80" y2="231.40" stroke="#000" stroke-width="1.0"/>
<line x1="425.40" y1="234.00" x2="425.40" y2="231.40" stroke="#000" stroke-width="1.0"/>
<line x1="427.00" y1="235.40" x2="427.00" y2="232.80" stroke="#000" stroke-width="1.0"/>
<line x1="428.60" y1="235.40" x2="428.60" y2="232.80" stroke="#000" stroke-width="1.0"/>
<line x1="430.20" y1="235.40" x2="430.20" y2="232.80" stroke="#000" stroke-width="1.0"/>
<line x1="431.80" y1="235.40" x2="431.80" y2="232.80" stroke="#000" stroke-width="1.0"/>
<line x1="433.40" y1="235.40" x2="433.40" y2="232.80" stroke="#000" stroke-width="1.0"/>
<line x1="435.00" y1="235.40" x2="435.00" y2="232.80" stroke="#000" stroke-width="1.0"/>
<line x1="436.60" y1="235.40" x2="436.60" y2="232.80" stroke="#000" stroke-width="1.0"/>
<line x1="438.20" y1="235.40" x2="438.20" y2="232.80" stroke="#000" stroke-width="1.0"/>
<line x1="439.80" y1="235.40" x2="439.80" y2="232.80" stroke="#000" stroke-width="1.0"/>
<line x1="441.40" y1="235.40" x2="441.40" y2="232.80" stroke="#000" stroke-width="1.0"/>
<line x1="443.00" y1="235.40" x2="443.00" y2="232.80" stroke="#000" stroke-width="1.0"/>
<line x1="444.60" y1="235.40" x2="444.60" y2="232.80" stroke="#000" stroke-width="1.0"/>
<line x1="446.20" y1="235.40" x2="446.20" y2="232.80" stroke="#000" stroke-width="1.0"/>
<line x1="447.80" y1="235.40" x2="447.80" y2="232.80" stroke="#000" stroke-width="1.0"/>
<line x1="449.40" y1="235.40" x2="449.40" y2="232.80" stroke="#000" stroke-width="1.0"/>
<line x1="451.00" y1="235.40" x2="451.00" y2="232.80" stroke="#000" stroke-width="1.0"/>
<line x1="452.60" y1="235.40" x2="452.60" y2="232.80" stroke="#000" stroke-width="1.0"/>
<line x1="454.20" y1="235.40" x2="454.20" y2="232.80" stroke="#000" stroke-width="1.0"/>
<line x1="455.80" y1="235.40" x2="455.80" y2="232.80" stroke="#000" stroke-width="1.0"/>
<line x1="457.40" y1="235.40" x2="457.40" y2="232.80" stroke="#000" stroke-width="1.0"/>
<line x1="459.00" y1="235.40" x2="459.00" y2="232.80" stroke="#000" stroke-width="1.0"/>
<line x1="460.60" y1="235.40" x2="460.60" y2="232.80" stroke="#000" stroke-width="1.0"/>
<line x1="462.20" y1="235.40" x2="462.20" y2="232.80" stroke="#000" stroke-width="1.0"/>
<line x1="463.80" y1="235.40" x2="463.80" y2="232.80" stroke="#000" stroke-width="1.0"/>
<line x1="465.40" y1="235.40" x2="465.40" y2="232.80" stroke="#000" stroke-width="1.0"/>
<line x1="467.00" y1="235.40" x2="467.00" y2="232.80" stroke="#000" stroke-width="1.0"/>
<line x1="468.80" y1="235.40" x2="468.80" y2="232.80" stroke="#000" stroke-width="1.0"/>
<line x1="302.60" y1="227.10" x2="302.60" y2="224.50" stroke="#000" stroke-width="1.0"/>
<line x1="304.50" y1="227.10" x2="304.50" y2="224.50" stroke="#000" stroke-width="1.0"/>
<line x1="305.30" y1="227.10" x2="305.30" y2="224.50" stroke="#000" stroke-width="1.0"/>
<line x1="351.20" y1="227.10" x2="351.20" y2="224.50" stroke="#000" stroke-width="1.0"/>
<line x1="404.80" y1="238.20" x2="404.80" y2="235.60" stroke="#000" stroke-width="1.0"/>
<line x1="407.30" y1="238.20" x2="407.30" y2="235.60" stroke="#000" stroke-width="1.0"/>
<line x1="410.00" y1="238.20" x2="410.00" y2="235.60" stroke="#000" stroke-width="1.0"/>
<line x1="412.70" y1="238.20" x2="412.70" y2="235.60" stroke="#000" stroke-width="1.0"/>
<line x1="416.50" y1="238.20" x2="416.50" y2="235.60" stroke="#000" stroke-width="1.0"/>
<line x1="419.20" y1="238.20" x2="419.20" y2="235.60" stroke="#000" stroke-width="1.0"/>
<line x1="420.00" y1="238.20" x2="420.00" y2="235.60" stroke="#000" stroke-width="1.0"/>
<line x1="421.50" y1="238.20" x2="421.50" y2="235.60" stroke="#000" stroke-width="1.0"/>
<line x1="423.00" y1="238.20" x2="423.00" y2="235.60" stroke="#000" stroke-width="1.0"/>
<line x1="424.60" y1="238.20" x2="424.60" y2="235.60" stroke="#000" stroke-width="1.0"/>
<line x1="426.10" y1="238.20" x2="426.10" y2="235.60" stroke="#000" stroke-width="1.0"/>
<line x1="437.70" y1="238.20" x2="437.70" y2="235.60" stroke="#000" stroke-width="1.0"/>
<line x1="441.70" y1="238.20" x2="441.70" y2="235.60" stroke="#000" stroke-width="1.0"/>
<line x1="444.40" y1="238.20" x2="444.40" y2="235.60" stroke="#000" stroke-width="1.0"/>
<line x1="448.40" y1="238.20" x2="448.40" y2="235.60" stroke="#000" stroke-width="1.0"/>
<line x1="451.10" y1="238.20" x2="451.10" y2="235.60" stroke="#000" stroke-width="1.0"/>
<line x1="455.20" y1="238.20" x2="455.20" y2="235.60" stroke="#000" stroke-width="1.0"/>
<line x1="457.90" y1="238.20" x2="457.90" y2="235.60" stroke="#000" stroke-width="1.0"/>
<line x1="458.50" y1="238.20" x2="458.50" y2="235.60" stroke="#000" stroke-width="1.0"/>
</svg>
</body></html>
